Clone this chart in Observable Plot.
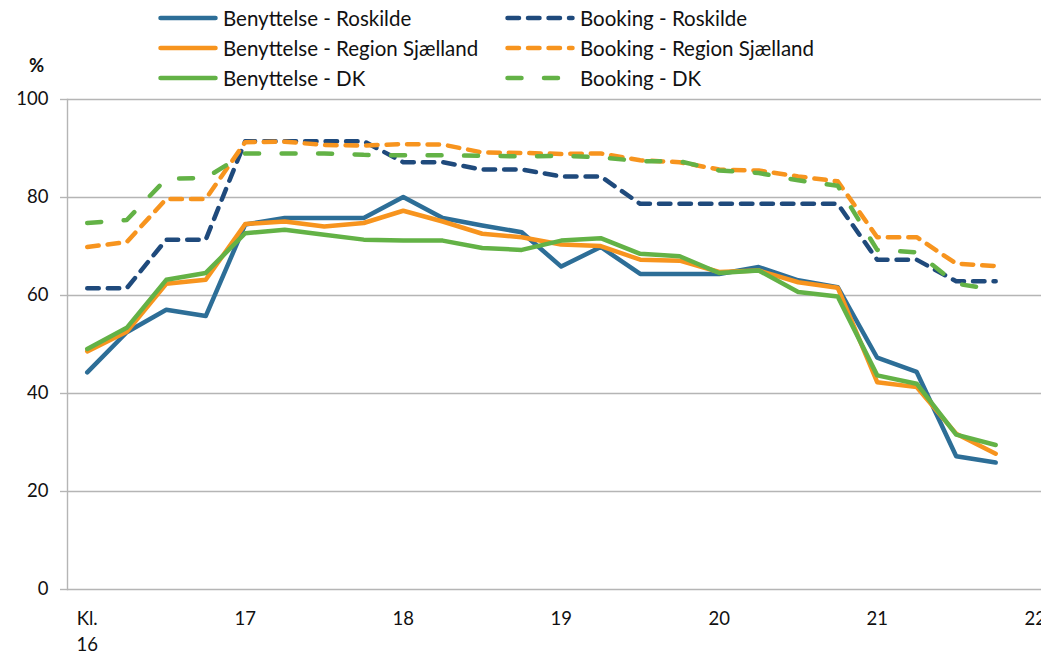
<!DOCTYPE html>
<html>
<head>
<meta charset="utf-8">
<script src="https://cdn.jsdelivr.net/npm/d3@7"></script>
<script src="https://cdn.jsdelivr.net/npm/@observablehq/plot@0.6"></script>
<style>
  html, body { margin: 0; padding: 0; background: #fff; }
  #wrap { position: relative; width: 1041px; height: 653px; overflow: hidden; font-family: Lato, "Open Sans", sans-serif; }
  #legend { position: absolute; left: 0; top: 0; width: 1041px; height: 95px; }
  .item { position: absolute; display: flex; align-items: center; height: 30px; font-size: 20.5px; color: #111; white-space: nowrap; }
  .item svg { display: block; margin-right: 5px; }
  #pct { position: absolute; left: 29px; top: 54px; font-size: 18.5px; font-weight: bold; color: #111; }
</style>
</head>
<body>
<div id="wrap">
  <div id="chart"></div>
  <div id="legend"></div>
  <div id="pct">%</div>
</div>
<script>
// ---- Data ----
const times = [16, 16.25, 16.5, 16.75, 17, 17.25, 17.5, 17.75, 18, 18.25, 18.5, 18.75,
               19, 19.25, 19.5, 19.75, 20, 20.25, 20.5, 20.75, 21, 21.25, 21.5, 21.75];
const xTicks = [16, 17, 18, 19, 20, 21, 22];
const yTicks = [0, 20, 40, 60, 80, 100];
const seriesNames = ["Benyttelse - Roskilde", "Benyttelse - Region Sjælland", "Benyttelse - DK",
                     "Booking - Roskilde", "Booking - Region Sjælland", "Booking - DK"];
const benRoskilde = [44.3, 52.5, 57.1, 55.8, 74.5, 75.8, 75.8, 75.8, 80.1, 75.8, 74.3, 72.9,
                     65.9, 69.9, 64.4, 64.4, 64.4, 65.8, 63.1, 61.7, 47.3, 44.4, 27.2, 25.9];
const benRegion   = [48.6, 52.6, 62.4, 63.2, 74.6, 75.1, 74.1, 74.8, 77.3, 75.1, 72.6, 71.9,
                     70.4, 70.1, 67.3, 67.1, 64.8, 65.1, 62.7, 61.6, 42.3, 41.3, 31.8, 27.7];
const benDK       = [49.1, 53.4, 63.2, 64.6, 72.7, 73.4, 72.4, 71.4, 71.2, 71.2, 69.7, 69.3,
                     71.2, 71.7, 68.5, 68.0, 64.6, 65.1, 60.7, 59.8, 43.7, 42.0, 31.6, 29.5];
const bookRoskilde = [61.5, 61.5, 71.4, 71.4, 91.5, 91.5, 91.5, 91.5, 87.2, 87.2, 85.7, 85.7,
                      84.3, 84.3, 78.7, 78.7, 78.7, 78.7, 78.7, 78.7, 67.3, 67.3, 62.9, 62.9];
const bookRegion   = [69.9, 70.9, 79.7, 79.7, 91.3, 91.4, 90.7, 90.6, 90.9, 90.8, 89.2, 89.1,
                      88.9, 89.0, 87.6, 87.2, 85.7, 85.5, 84.3, 83.3, 71.9, 71.9, 66.5, 66.0];
const bookDK       = [74.8, 75.4, 83.8, 84.0, 89.0, 89.0, 89.0, 88.7, 88.6, 88.6, 88.5, 88.4,
                      88.5, 88.2, 87.4, 87.4, 85.5, 85.0, 83.5, 82.4, 69.3, 68.8, 62.4, 61.2];

// ---- Styles ----
const styles = [
  {color: "#2d6e97", dash: null},
  {color: "#f7941e", dash: null},
  {color: "#63b246", dash: null},
  {color: "#1f4a7c", dash: "11.5,9"},
  {color: "#f7941e", dash: "11.5,9"},
  {color: "#63b246", dash: "14,22.5"}
];
const values = [benRoskilde, benRegion, benDK, bookRoskilde, bookRegion, bookDK];

const rows = [];
values.forEach((arr, s) => arr.forEach((v, i) => rows.push({series: seriesNames[s], t: times[i], v})));

const lineMarks = seriesNames.map((name, s) =>
  Plot.line(rows.filter(d => d.series === name), {
    x: "t", y: "v",
    stroke: styles[s].color,
    strokeWidth: 4.5,
    strokeDasharray: styles[s].dash || undefined,
    strokeLinecap: "round",
    strokeLinejoin: "round"
  })
);

const grid = "#b5b5b5";
const chart = Plot.plot({
  width: 1041,
  height: 653,
  marginLeft: 67,
  marginRight: 0,
  marginTop: 99,
  marginBottom: 64,
  style: {fontFamily: "Lato, 'Open Sans', sans-serif", fontSize: "18.5px", color: "#111", background: "white", overflow: "hidden"},
  x: {type: "linear", domain: [15.875, 22.04]},
  y: {domain: [0, 100]},
  marks: [
    Plot.ruleY(yTicks, {stroke: grid, strokeWidth: 1.4}),
    Plot.frame({anchor: "left", stroke: grid, strokeWidth: 1.4}),
    Plot.axisY({ticks: yTicks, tickSize: 7, tickPadding: 12, label: null, stroke: grid, strokeWidth: 1.4, fill: "#111", fontSize: 18.5}),
    Plot.axisX({ticks: xTicks, tickSize: 0, tickPadding: 16, label: null, fill: "#111", fontSize: 18.5,
                lineHeight: 1.45,
                tickFormat: d => d === 16 ? "Kl.\n16" : String(d)}),
    ...lineMarks
  ]
});
document.getElementById("chart").appendChild(chart);

// ---- Legend ----
const legend = d3.select("#legend");
const cols = [{line: 158, text: 223}, {line: 505, text: 580}];
const rowY = [18, 48, 78];
seriesNames.forEach((name, s) => {
  const c = cols[Math.floor(s / 3)], r = rowY[s % 3];
  const lineW = c.text - c.line - 5;
  const item = legend.append("div").attr("class", "item")
    .style("left", c.line + "px").style("top", (r - 15) + "px");
  const svg = item.append("svg").attr("width", lineW).attr("height", 10);
  svg.append("line").attr("x1", 2.5).attr("x2", lineW - 2.5).attr("y1", 5).attr("y2", 5)
    .attr("stroke", styles[s].color).attr("stroke-width", 4.5).attr("stroke-linecap", "round")
    .attr("stroke-dasharray", styles[s].dash);
  item.append("span").text(name);
});
</script>
</body>
</html>
